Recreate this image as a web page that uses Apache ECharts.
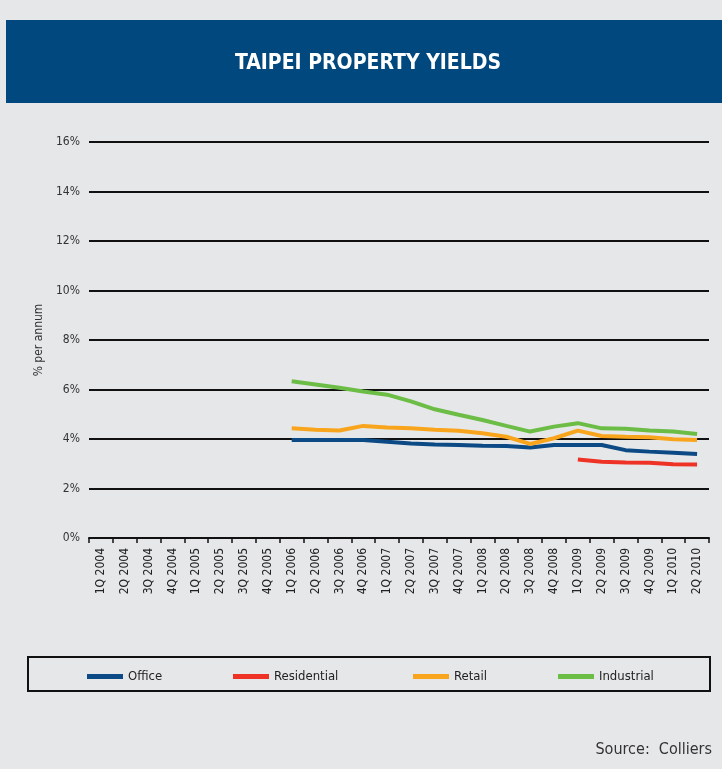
<!DOCTYPE html>
<html>
<head>
<meta charset="utf-8">
<title>Taipei property yields</title>
<script src="https://cdn.jsdelivr.net/npm/echarts@6/dist/echarts.min.js"></script>
<style>
  html, body { margin: 0; padding: 0; background: #e6e7e9; }
  #chart { width: 722px; height: 769px; }
</style>
</head>
<body>
<div id="chart"></div>
<script>
// quarters on the x axis
const quarters = [
  '1Q 2004', '2Q 2004', '3Q 2004', '4Q 2004',
  '1Q 2005', '2Q 2005', '3Q 2005', '4Q 2005',
  '1Q 2006', '2Q 2006', '3Q 2006', '4Q 2006',
  '1Q 2007', '2Q 2007', '3Q 2007', '4Q 2007',
  '1Q 2008', '2Q 2008', '3Q 2008', '4Q 2008',
  '1Q 2009', '2Q 2009', '3Q 2009', '4Q 2009',
  '1Q 2010', '2Q 2010'
]
const yTicks = [0, 2, 4, 6, 8, 10, 12, 14, 16]

// yields, % per annum (no data before 1Q 2006)
const office = [null, null, null, null, null, null, null, null,
  3.96, 3.96, 3.96, 3.96, 3.89, 3.82, 3.78, 3.76,
  3.73, 3.72, 3.66, 3.76, 3.76, 3.76, 3.55, 3.49, 3.44, 3.39]
const residential = [null, null, null, null, null, null, null, null,
  null, null, null, null, null, null, null, null,
  null, null, null, null, 3.17, 3.08, 3.05, 3.04, 2.98, 2.97]
const retail = [null, null, null, null, null, null, null, null,
  4.43, 4.37, 4.34, 4.53, 4.46, 4.43, 4.37, 4.33,
  4.23, 4.09, 3.8, 4.03, 4.34, 4.12, 4.09, 4.07, 3.99, 3.96]
const industrial = [null, null, null, null, null, null, null, null,
  6.33, 6.2, 6.07, 5.92, 5.79, 5.52, 5.2, 4.98,
  4.77, 4.53, 4.3, 4.5, 4.64, 4.43, 4.41, 4.34, 4.3, 4.2]

const seriesNames = ['Office', 'Residential', 'Retail', 'Industrial']
const seriesColors = ['#0b4a84', '#ee3326', '#f8a51d', '#6cbd45']
const seriesData = [office, residential, retail, industrial]

const narrow = "'Liberation Sans Narrow', 'DejaVu Sans Condensed', 'Noto Sans', sans-serif"

// left edge of each legend entry inside the framed box
const legendLefts = [82, 228, 408, 553]

const chart = echarts.init(document.getElementById('chart'))

const option = {
  backgroundColor: '#e6e7e9',
  animation: false,
  graphic: [
    // title bar
    {
      type: 'rect',
      shape: { x: 6, y: 20, width: 716, height: 83 },
      style: { fill: '#00487e' },
      z: 0
    },
    {
      type: 'text',
      x: 368, y: 64,
      style: {
        text: 'TAIPEI PROPERTY YIELDS',
        fill: '#ffffff',
        font: "bold 21px " + narrow,
        textAlign: 'center',
        textVerticalAlign: 'middle'
      },
      z: 1
    },
    // legend frame
    {
      type: 'rect',
      shape: { x: 28, y: 657, width: 682, height: 34 },
      style: { fill: 'transparent', stroke: '#111111', lineWidth: 2 },
      z: 1
    },
    {
      type: 'text',
      right: 10, top: 742,
      style: {
        text: 'Source:  Colliers',
        fill: '#333333',
        font: "16px " + narrow
      }
    }
  ],
  legend: seriesNames.map((name, i) => ({
    left: legendLefts[i],
    top: 665,
    icon: 'rect',
    itemWidth: 36,
    itemHeight: 5,
    data: [name],
    textStyle: { color: '#222222', fontSize: 13, fontFamily: narrow }
  })),
  grid: { left: 89, right: 13, top: 142, bottom: 231 },
  xAxis: {
    type: 'category',
    data: quarters,
    boundaryGap: true,
    axisLine: { lineStyle: { color: '#111111', width: 2 } },
    axisTick: { show: true, length: 5, lineStyle: { color: '#111111', width: 1.5 } },
    axisLabel: {
      interval: 0,
      rotate: 90,
      margin: 10,
      color: '#222222',
      fontSize: 12,
      fontFamily: narrow
    }
  },
  yAxis: {
    type: 'value',
    min: yTicks[0],
    max: yTicks[yTicks.length - 1],
    interval: 2,
    name: '% per annum',
    nameLocation: 'middle',
    nameGap: 44,
    nameTextStyle: { color: '#333333', fontSize: 12, fontFamily: narrow },
    axisLine: { show: false },
    axisTick: { show: false },
    axisLabel: {
      formatter: '{value}%',
      color: '#333333',
      fontSize: 12,
      margin: 9,
      fontFamily: narrow
    },
    splitLine: { lineStyle: { color: '#111111', width: 2 } }
  },
  series: seriesNames.map((name, i) => ({
    name: name,
    type: 'line',
    data: seriesData[i],
    showSymbol: false,
    symbol: 'none',
    connectNulls: false,
    lineStyle: { width: 4, color: seriesColors[i] },
    itemStyle: { color: seriesColors[i] },
    z: 3 + i
  }))
}

chart.setOption(option)
</script>
</body>
</html>
